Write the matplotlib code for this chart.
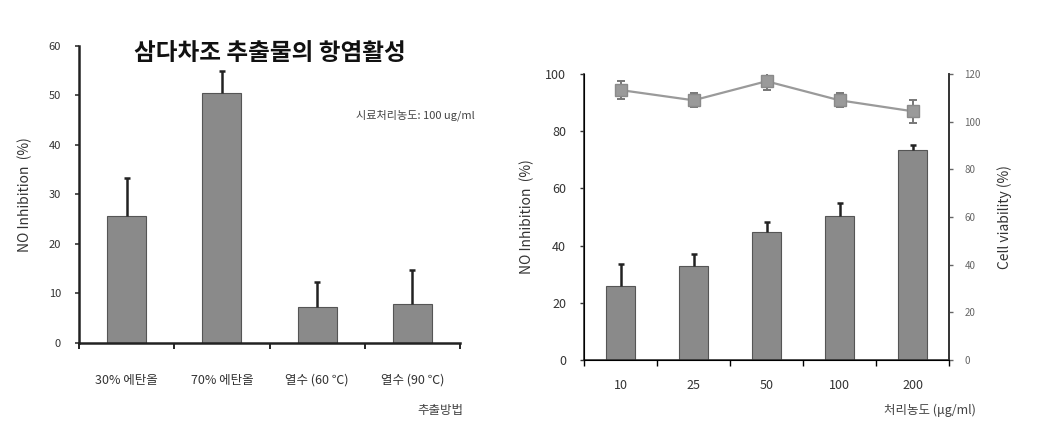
import matplotlib
matplotlib.use("Agg")
import matplotlib.pyplot as plt
import numpy as np

plt.rcParams['font.family'] = ['Noto Sans CJK KR', 'DejaVu Sans']

# Left chart data
methods = ["30% 에탄올", "70% 에탄올", "열수 (60 ℃)", "열수 (90 ℃)"]
method_vals = [25.7, 50.5, 7.3, 7.9]
method_err = [7.6, 4.5, 5.0, 6.8]

# Right chart data
conc = ["10", "25", "50", "100", "200"]
no_inhib = [25.9, 32.9, 44.8, 50.3, 73.4]
no_err = [7.7, 4.1, 3.5, 4.6, 1.8]
viability = [113.3, 109.0, 117.0, 109.0, 104.4]
via_err = [3.6, 3.0, 3.6, 3.0, 4.8]

bar_color = "#8a8a8a"
edge_color = "#555555"
tick_col = "#333333"


def upper_err(ax, x, vals, errs):
    vals = np.asarray(vals)
    errs = np.asarray(errs)
    ax.vlines(x, vals, vals + errs, colors="#222222", linewidth=1.8, zorder=3)
    ax.plot(x, vals + errs, linestyle='none', marker='_', markersize=5,
            markeredgewidth=1.8, color="#222222", zorder=3)


fig = plt.figure(figsize=(10.51, 4.28), dpi=100)

# ---- Left chart ----
ax1 = fig.add_axes([0.0752, 0.1986, 0.3625, 0.694])
x1 = np.arange(len(methods))
ax1.bar(x1, method_vals, width=0.41, color=bar_color, edgecolor=edge_color, linewidth=0.8, zorder=2)
upper_err(ax1, x1, method_vals, method_err)
ax1.set_xlim(-0.5, len(methods) - 0.5)
ax1.set_ylim(0, 60)
ax1.set_yticks(range(0, 61, 10))
ax1.set_xticks(x1)
ax1.set_xticklabels(methods, fontsize=9, color=tick_col)
ax1.set_xticks(np.arange(-0.5, len(methods), 1.0), minor=True)
ax1.tick_params(axis='x', which='major', length=0, pad=22)
ax1.tick_params(axis='x', which='minor', length=4, width=1.2, direction='out')
ax1.tick_params(axis='y', length=3, width=1.2, labelsize=8, colors=tick_col, pad=10)
for s in ['top', 'right']:
    ax1.spines[s].set_visible(False)
for s in ['left', 'bottom']:
    ax1.spines[s].set_linewidth(1.8)
    ax1.spines[s].set_color("#222222")
ax1.set_ylabel("NO Inhibition  (%)", fontsize=10, color=tick_col, labelpad=12)
fig.text(0.257, 0.875, "삼다차조 추출물의 항염활성", fontsize=17, fontweight='bold',
         ha='center', va='center', color="#111111")
fig.text(0.395, 0.731, "시료처리농도: 100 ug/ml", fontsize=8, ha='center', va='center', color="#444444")
fig.text(0.419, 0.042, "추출방법", fontsize=9, ha='center', va='center', color="#444444")

# ---- Right chart ----
ax2 = fig.add_axes([0.5557, 0.1589, 0.3473, 0.668])
x2 = np.arange(len(conc))
ax2.bar(x2, no_inhib, width=0.39, color=bar_color, edgecolor=edge_color, linewidth=0.8, zorder=2)
upper_err(ax2, x2, no_inhib, no_err)
ax2.set_xlim(-0.5, len(conc) - 0.5)
ax2.set_ylim(0, 100)
ax2.set_yticks(range(0, 101, 20))
ax2.set_xticks(x2)
ax2.set_xticklabels(conc, fontsize=9, color=tick_col)
ax2.set_xticks(np.arange(-0.5, len(conc), 1.0), minor=True)
ax2.tick_params(axis='x', which='major', length=0, pad=14)
ax2.tick_params(axis='x', which='minor', length=4, width=1.0, direction='out')
ax2.tick_params(axis='y', length=3, width=1.0, labelsize=9, colors=tick_col, pad=10)
ax2.spines['top'].set_visible(False)
for s in ['left', 'bottom', 'right']:
    ax2.spines[s].set_linewidth(1.2)
    ax2.spines[s].set_color("#333333")
ax2.set_ylabel("NO Inhibition  (%)", fontsize=10, color=tick_col, labelpad=8)

ax3 = ax2.twinx()
ax3.set_ylim(0, 120)
ax3.set_yticks(range(0, 121, 20))
ax3.errorbar(x2, viability, yerr=via_err, fmt='-s', color="#9a9a9a", ecolor="#777777",
             markersize=8, markerfacecolor="#9a9a9a", markeredgecolor="#8a8a8a",
             linewidth=1.6, elinewidth=1.4, capsize=3, capthick=1.4, zorder=4)
ax3.spines['top'].set_visible(False)
ax3.spines['right'].set_linewidth(1.2)
ax3.spines['right'].set_color("#333333")
ax3.tick_params(axis='y', length=3, width=1.0, labelsize=7, colors="#666666", pad=8)
ax3.set_ylabel("Cell viability (%)", fontsize=10, color=tick_col, labelpad=12)
fig.text(0.885, 0.042, "처리농도 (μg/ml)", fontsize=9, ha='center', va='center', color="#444444")

fig.savefig("out.png", dpi=100)
